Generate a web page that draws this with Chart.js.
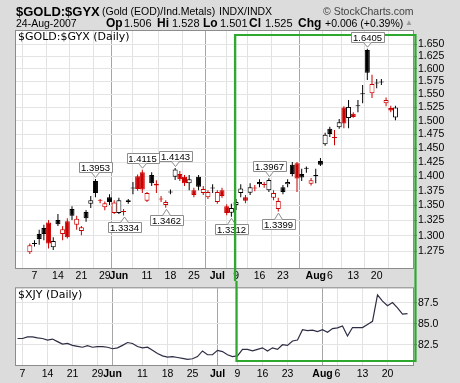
<!DOCTYPE html>
<html>
<head>
<meta charset="utf-8">
<script src="https://cdn.jsdelivr.net/npm/chart.js@4.4.0/dist/chart.umd.min.js"></script>
<style>
  html, body { margin: 0; padding: 0; }
  body { width: 460px; height: 383px; background: #dcdcdc; position: relative; overflow: hidden;
         font-family: "Liberation Sans", Arial, sans-serif; color: #000; }
  canvas { position: absolute; left: 0; }
  .t { position: absolute; white-space: nowrap; line-height: 1; }
  .b { font-weight: bold; font-size: 12px; top: 17px; }
  .v { font-size: 11px; top: 18px; }
</style>
</head>
<body>
<canvas id="gold" width="460" height="281" style="top:0"></canvas>
<canvas id="xjy" width="460" height="102" style="top:281px"></canvas>

<div class="t" style="left:16px;top:5px;font-size:13px;font-weight:bold">$GOLD:$GYX</div>
<div class="t" style="left:102px;top:6px;font-size:10.5px">(Gold (EOD)/Ind.Metals)</div>
<div class="t" style="left:219px;top:6px;font-size:10.5px">INDX/INDX</div>
<div class="t" style="left:323px;top:6px;font-size:10.5px;color:#444">© StockCharts.com</div>

<div class="t v" style="left:16px;font-size:10.5px">24-Aug-2007</div>
<div class="t b" style="left:106px">Op</div><div class="t v" style="left:124px">1.506</div>
<div class="t b" style="left:157px">Hi</div><div class="t v" style="left:172px">1.528</div>
<div class="t b" style="left:203px">Lo</div><div class="t v" style="left:220px">1.501</div>
<div class="t b" style="left:249px">Cl</div><div class="t v" style="left:265px">1.525</div>
<div class="t b" style="left:298px">Chg</div><div class="t v" style="left:325px;font-size:10.5px">+0.006 (+0.39%)</div>
<div class="t" style="left:405px;top:19px;font-size:8px;color:#999">▲</div>

<script>
// daily candles, 4-May-2007 .. 24-Aug-2007 (index = trading day)
const firstPrevClose = 1.29;
const opens = [
  1.274, 1.287, 1.303, 1.313, 1.322, 1.282, 1.326, 1.303, 1.324, 1.344,
  1.318, 1.308, 1.339, 1.353, 1.392, 1.359, 1.347, 1.364, 1.3375, 1.3375,
  1.340, 1.359, 1.379, 1.400, 1.407, 1.358, 1.402, 1.387, 1.361, 1.351,
  1.372, 1.399, 1.404, 1.399, 1.388, 1.376, 1.399, 1.371, 1.364, 1.379,
  1.356, 1.376, 1.349, 1.338, 1.351, 1.371, 1.364, 1.3715, 1.380, 1.390,
  1.386, 1.376, 1.363, 1.344, 1.381, 1.386, 1.420, 1.423, 1.404, 1.413,
  1.387, 1.400, 1.427, 1.457, 1.485, 1.469, 1.488, 1.525, 1.505, 1.513,
  1.527, 1.550, 1.638, 1.552, 1.571, 1.573, 1.533, 1.524, 1.506
];
const highs = [
  1.288, 1.293, 1.310, 1.318, 1.326, 1.298, 1.336, 1.316, 1.329, 1.349,
  1.333, 1.316, 1.3425, 1.366, 1.3953, 1.361, 1.357, 1.369, 1.359, 1.363,
  1.344, 1.361, 1.390, 1.403, 1.4115, 1.373, 1.407, 1.393, 1.366, 1.359,
  1.377, 1.4143, 1.409, 1.402, 1.402, 1.380, 1.402, 1.383, 1.376, 1.386,
  1.376, 1.380, 1.352, 1.353, 1.361, 1.386, 1.368, 1.388, 1.385, 1.395,
  1.390, 1.3967, 1.376, 1.363, 1.385, 1.395, 1.425, 1.425, 1.413, 1.417,
  1.397, 1.413, 1.432, 1.478, 1.489, 1.483, 1.503, 1.527, 1.539, 1.516,
  1.539, 1.568, 1.6405, 1.588, 1.580, 1.580, 1.544, 1.528, 1.528
];
const lows = [
  1.271, 1.283, 1.286, 1.293, 1.280, 1.2775, 1.316, 1.293, 1.296, 1.326,
  1.310, 1.301, 1.323, 1.346, 1.364, 1.354, 1.342, 1.351, 1.336, 1.336,
  1.3334, 1.353, 1.369, 1.375, 1.371, 1.356, 1.383, 1.371, 1.356, 1.3462,
  1.369, 1.3935, 1.392, 1.383, 1.376, 1.364, 1.376, 1.368, 1.361, 1.371,
  1.353, 1.363, 1.334, 1.3312, 1.3425, 1.364, 1.354, 1.368, 1.374, 1.381,
  1.380, 1.373, 1.359, 1.3399, 1.369, 1.381, 1.400, 1.373, 1.392, 1.406,
  1.384, 1.388, 1.418, 1.454, 1.470, 1.455, 1.485, 1.486, 1.486, 1.5055,
  1.516, 1.533, 1.578, 1.543, 1.562, 1.568, 1.527, 1.516, 1.501
];
const closes = [
  1.285, 1.288, 1.295, 1.303, 1.288, 1.292, 1.319, 1.311, 1.298, 1.333,
  1.328, 1.314, 1.329, 1.359, 1.371, 1.358, 1.354, 1.356, 1.355, 1.359,
  1.339, 1.356, 1.380, 1.378, 1.377, 1.371, 1.388, 1.384, 1.360, 1.356,
  1.373, 1.412, 1.395, 1.388, 1.395, 1.368, 1.382, 1.378, 1.373, 1.380,
  1.373, 1.366, 1.3375, 1.346, 1.356, 1.379, 1.358, 1.381, 1.379, 1.386,
  1.385, 1.3935, 1.371, 1.3575, 1.373, 1.390, 1.404, 1.396, 1.398, 1.414,
  1.393, 1.402, 1.420, 1.474, 1.4755, 1.468, 1.497, 1.495, 1.526, 1.507,
  1.529, 1.552, 1.592, 1.570, 1.5715, 1.575, 1.539, 1.519, 1.525
];
const xjy = [
  83.26, 83.26, 83.44, 83.44, 83.33, 83.26, 83.07, 83.19, 82.89, 82.59,
  82.67, 82.44, 82.33, 82.22, 82.41, 82.22, 82.30, 82.30, 82.22, 82.04,
  82.15, 82.44, 82.78, 82.67, 82.30, 82.15, 82.22, 81.85, 81.48, 81.19,
  81.04, 81.11, 81.00, 80.89, 80.78, 80.85, 81.11, 81.78, 81.33, 81.33,
  81.85, 81.70, 81.33, 81.11, 81.20, 81.96, 81.96, 81.78, 81.96, 82.15,
  81.78, 82.15, 81.96, 82.52, 82.44, 82.96, 83.07, 84.30, 84.19, 84.26,
  84.07, 84.30, 84.00, 84.44, 84.52, 84.74, 83.56, 84.56, 84.56, 84.56,
  84.93, 85.30, 88.44, 87.70, 87.15, 87.52, 86.89, 86.15, 86.22
];

const tickIdx = [1, 6, 11, 16, 19, 25, 30, 35, 40, 44, 49, 54, 61, 64, 69, 74];
const tickText = ['7', '14', '21', '29', 'Jun', '11', '18', '25', 'Jul', '9', '16', '23', 'Aug', '6', '13', '20'];
const monthIdx = [19, 40, 61];
const goldTicks = [1.275, 1.3, 1.325, 1.35, 1.375, 1.4, 1.425, 1.45, 1.475, 1.5, 1.525, 1.55, 1.575, 1.6, 1.625, 1.65];
const xjyTicks = [82.5, 85.0, 87.5];
const calloutIdx = [14, 20, 24, 29, 31, 43, 51, 53, 72];
const calloutSide = ['hi', 'lo', 'hi', 'lo', 'hi', 'lo', 'hi', 'lo', 'hi'];
const boxStart = 44; // 9-Jul

const RED = '#cc0000';
const candleColor = closes.map((c, i) => c < (i ? closes[i - 1] : firstPrevClose) ? RED : '#000000');

const panelPlugin = {
  id: 'panel',
  beforeDraw(chart) {
    const { ctx, chartArea: a } = chart;
    ctx.save();
    ctx.fillStyle = '#ffffff';
    ctx.fillRect(a.left, a.top, a.right - a.left, a.bottom - a.top);
    ctx.restore();
  },
  afterDraw(chart, args, opts) {
    const { ctx, chartArea: a } = chart;
    const xs = chart.scales.x, ys = chart.scales.y;
    ctx.save();
    ctx.strokeStyle = '#8c8c8c';
    ctx.lineWidth = 1;
    ctx.strokeRect(a.left - 0.5, a.top - 0.5, a.right - a.left + 1, a.bottom - a.top + 1);

    ctx.fillStyle = '#000';
    ctx.font = '11px "DejaVu Sans"';
    ctx.textBaseline = 'top';
    ctx.fillText(opts.title, a.left + 2, a.top + 1);

    // green highlight box, split over the two panels
    const x0 = xs.getPixelForValue(boxStart) - 1;
    const x1 = a.right + 2.5;
    ctx.strokeStyle = '#2fa82f';
    ctx.lineWidth = 2.2;
    ctx.beginPath();
    if (opts.edge === 'top') {
      const y0 = a.top + 4;
      ctx.moveTo(x0, chart.height);
      ctx.lineTo(x0, y0);
      ctx.lineTo(x1, y0);
      ctx.lineTo(x1, chart.height);
    } else {
      const y1 = a.bottom - 4;
      ctx.moveTo(x0, 0);
      ctx.lineTo(x0, y1);
      ctx.lineTo(x1, y1);
      ctx.lineTo(x1, 0);
    }
    ctx.stroke();

    if (opts.callouts) {
      ctx.font = '9.5px "Liberation Sans"';
      ctx.lineWidth = 1;
      calloutIdx.forEach((i, k) => {
        const hi = calloutSide[k] === 'hi';
        const v = hi ? highs[i] : lows[i];
        const txt = v.toFixed(4);
        const x = Math.round(xs.getPixelForValue(i)) + 0.5;
        const y = ys.getPixelForValue(v);
        const w = Math.round(ctx.measureText(txt).width) + 4, h = 10;
        const bx = Math.round(x - w / 2) + 0.5;
        const by = hi ? Math.round(y - 7 - h) + 0.5 : Math.round(y + 7) + 0.5;
        ctx.fillStyle = '#ffffff';
        ctx.strokeStyle = '#8c8c8c';
        ctx.beginPath();
        ctx.rect(bx, by, w, h);
        ctx.fill();
        ctx.stroke();
        const edge = hi ? by + h : by;
        const tip = hi ? y - 1.5 : y + 1.5;
        ctx.beginPath();
        ctx.moveTo(x - 4, edge);
        ctx.lineTo(x, tip);
        ctx.lineTo(x + 4, edge);
        ctx.closePath();
        ctx.fill();
        ctx.beginPath();
        ctx.moveTo(x - 4, edge);
        ctx.lineTo(x, tip);
        ctx.lineTo(x + 4, edge);
        ctx.stroke();
        ctx.fillStyle = '#000';
        ctx.textAlign = 'center';
        ctx.textBaseline = 'middle';
        ctx.fillText(txt, x, by + h / 2 + 0.5);
      });
      // the green side line runs over the 9-Jul area label
      ctx.strokeStyle = '#2fa82f';
      ctx.lineWidth = 2.2;
      ctx.beginPath();
      ctx.moveTo(x0, a.top + 4);
      ctx.lineTo(x0, chart.height);
      ctx.stroke();
    }
    ctx.restore();
  }
};

function dateAxis(height, pad) {
  return {
    type: 'linear',
    min: -0.3,
    max: 79.1,
    afterBuildTicks: s => { s.ticks = tickIdx.map(v => ({ value: v })); },
    afterFit: s => { s.height = height; },
    grid: {
      drawTicks: false,
      color: c => monthIdx.includes(c.tick && c.tick.value) ? '#a6a6a6' : '#e2e2e2'
    },
    border: { display: false },
    ticks: {
      autoSkip: false,
      maxRotation: 0,
      padding: pad,
      color: '#000',
      callback: (v, i) => tickText[i],
      font: c => ({
        family: 'Liberation Sans',
        size: 10.5,
        weight: monthIdx.includes(c.tick && c.tick.value) ? 'bold' : 'normal'
      })
    }
  };
}

function valueAxis(type, min, max, ticks, digits) {
  return {
    type: type,
    position: 'right',
    min: min,
    max: max,
    afterBuildTicks: s => { s.ticks = ticks.map(v => ({ value: v })); },
    afterFit: s => { s.width = 47; },
    grid: { color: '#e4e4e4', tickColor: '#777777', tickLength: 4 },
    border: { display: false },
    ticks: {
      autoSkip: false,
      padding: 1,
      color: '#000',
      font: { family: 'Liberation Sans', size: 10.5 },
      callback: v => Number(v).toFixed(digits)
    }
  };
}

const common = {
  responsive: false,
  animation: false,
  devicePixelRatio: 1,
  events: []
};

new Chart(document.getElementById('gold').getContext('2d'), {
  type: 'bar',
  data: {
    datasets: [
      {
        data: closes.map((c, i) => ({ x: i, y: [opens[i], c] })),
        order: 0,
        grouped: false,
        barThickness: 5,
        minBarLength: 1,
        borderWidth: 1,
        borderSkipped: false,
        inflateAmount: 0,
        borderColor: candleColor,
        backgroundColor: closes.map((c, i) => c > opens[i] ? '#ffffff' : candleColor[i])
      },
      {
        data: closes.map((c, i) => ({ x: i, y: [lows[i], highs[i]] })),
        order: 1,
        grouped: false,
        barThickness: 1,
        borderWidth: 0,
        inflateAmount: 0,
        backgroundColor: candleColor
      }
    ]
  },
  options: {
    ...common,
    layout: { padding: { left: 16, right: 0, top: 31, bottom: 0 } },
    plugins: {
      legend: { display: false },
      tooltip: { enabled: false },
      panel: { title: '$GOLD:$GYX (Daily)', edge: 'top', callouts: true }
    },
    scales: {
      x: dateAxis(13, 2),
      y: valueAxis('logarithmic', 1.2492, 1.6769, goldTicks, 3)
    }
  },
  plugins: [panelPlugin]
});

new Chart(document.getElementById('xjy').getContext('2d'), {
  type: 'line',
  data: {
    datasets: [{
      data: xjy.map((v, i) => ({ x: i, y: v })),
      borderColor: '#2d2d44',
      borderWidth: 1.2,
      pointRadius: 0,
      tension: 0
    }]
  },
  options: {
    ...common,
    layout: { padding: { left: 16, right: 0, top: 2, bottom: 0 } },
    plugins: {
      legend: { display: false },
      tooltip: { enabled: false },
      panel: { title: '$XJY (Daily)', edge: 'bottom', callouts: false }
    },
    scales: {
      x: dateAxis(18, 3),
      y: valueAxis('linear', 80.11, 89.22, xjyTicks, 1)
    }
  },
  plugins: [panelPlugin]
});
</script>
</body>
</html>
